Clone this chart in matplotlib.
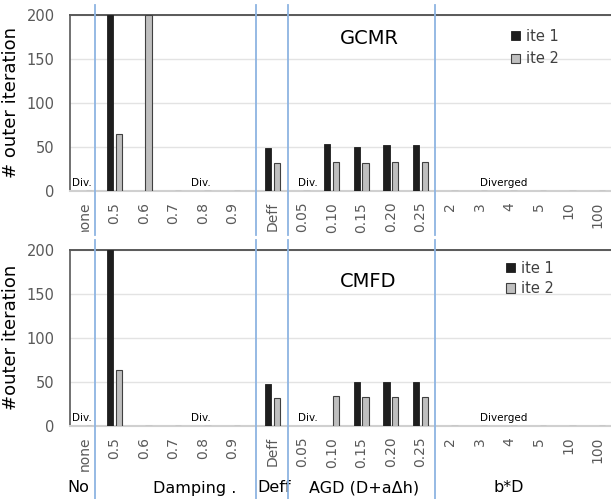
import matplotlib
matplotlib.use('Agg')
import matplotlib.pyplot as plt
import matplotlib.patches as mpatches
from matplotlib.transforms import blended_transform_factory
import numpy as np

plt.rcParams['font.family'] = ['DejaVu Sans']

# 数据
categories = ['none', '0.5', '0.6', '0.7', '0.8', '0.9', 'Deff',
              '0.05', '0.10', '0.15', '0.20', '0.25',
              '2', '3', '4', '5', '10', '100']
groups = ['No', 'Damping .', 'Deff', 'AGD (D+a\u0394h)', 'b*D']

gcmr_ite1 = [0, 200, 0, 0, 0, 0, 49, 0, 53, 50, 52, 52, 0, 0, 0, 0, 0, 0]
gcmr_ite2 = [0, 64, 200, 0, 0, 0, 32, 0, 33, 32, 33, 33, 0, 0, 0, 0, 0, 0]
cmfd_ite1 = [0, 200, 0, 0, 0, 0, 48, 0, 0, 50, 50, 50, 0, 0, 0, 0, 0, 0]
cmfd_ite2 = [0, 63, 0, 0, 0, 0, 32, 0, 34, 33, 33, 33, 0, 0, 0, 0, 0, 0]

W, H = 611, 499
fig = plt.figure(figsize=(W / 100, H / 100), dpi=100, facecolor='white')

# 类别位置：阻尼组之后留一点空隙
x = np.arange(len(categories), dtype=float)
x[6:] += 0.35
sep_x = [0.35, 5.8, 6.88, 11.85]
group_x = [-0.23, 3.72, 6.39, 9.45, 14.33]

BLUE = '#8DB4E2'
GRAY_TXT = '#595959'


def px_y(p):
    return 1 - p / H


def draw_panel(rect, ite1, ite2, title, title_pos, ylabel, sep_span, legend_anchor, legend_spacing):
    ax = fig.add_axes(rect)
    bw = 0.22
    ax.bar(x - 0.15, ite1, bw, color='#1E1E1E', edgecolor='#1E1E1E', linewidth=0.6, label='ite 1', zorder=3)
    ax.bar(x + 0.15, ite2, bw, color='#BFBFBF', edgecolor='#404040', linewidth=0.8, label='ite 2', zorder=3)
    ax.set_xlim(-0.5, 17.8)
    ax.set_ylim(0, 200)
    ax.set_yticks([0, 50, 100, 150, 200])
    ax.set_xticks(x)
    ax.set_xticklabels(categories, rotation=90, fontsize=10, color=GRAY_TXT)
    ax.tick_params(axis='y', length=0, pad=11, labelsize=10.5, labelcolor=GRAY_TXT)
    ax.tick_params(axis='x', length=0, pad=8)
    ax.grid(axis='y', color='#E3E3E3', linewidth=1, zorder=0)
    ax.spines['right'].set_visible(False)
    ax.spines['top'].set_color('#595959')
    ax.spines['top'].set_linewidth(1.4)
    ax.spines['left'].set_color('#595959')
    ax.spines['left'].set_linewidth(1.2)
    ax.spines['bottom'].set_color('#D0D0D0')
    ax.spines['bottom'].set_linewidth(1.5)
    ax.set_ylabel(ylabel, fontsize=13, color='black', labelpad=5)

    # 发散标记
    ax.text(-0.42, 9, 'Div.', fontsize=7.5, ha='left', va='center', zorder=4)
    ax.text(3.92, 9, 'Div.', fontsize=7.5, ha='center', va='center', zorder=4)
    ax.text(7.54, 9, 'Div.', fontsize=7.5, ha='center', va='center', zorder=4)
    ax.text(14.16, 9, 'Diverged', fontsize=7.5, ha='center', va='center', zorder=4)

    ax.text(title_pos[0], title_pos[1], title, fontsize=14, ha='center', va='center')

    # 分组分隔线
    tr = blended_transform_factory(ax.transData, fig.transFigure)
    for sx in sep_x:
        ax.plot([sx, sx], sep_span, color=BLUE, linewidth=1.3, transform=tr, clip_on=False, zorder=5)

    h1 = mpatches.Patch(facecolor='#1E1E1E', edgecolor='#1E1E1E', linewidth=0.6)
    h2 = mpatches.Patch(facecolor='#BFBFBF', edgecolor='#404040', linewidth=0.8)
    ax.legend([h1, h2], ['ite 1', 'ite 2'], loc='upper left', bbox_to_anchor=legend_anchor,
              bbox_transform=fig.transFigure, frameon=False, fontsize=10.5,
              handlelength=0.6, handleheight=0.6, handletextpad=0.4,
              labelspacing=legend_spacing, borderpad=0, borderaxespad=0,
              labelcolor='#404040')
    return ax


ax_top = draw_panel([70 / W, px_y(190.7), 541 / W, 175.7 / H],
                    gcmr_ite1, gcmr_ite2, 'GCMR', (9.63, 172.7), '# outer iteration',
                    [px_y(5), px_y(235)], (511 / W, px_y(29)), 0.5)
ax_bot = draw_panel([70 / W, px_y(425.7), 541 / W, 175.7 / H],
                    cmfd_ite1, cmfd_ite2, 'CMFD', (9.6, 164.7), '#outer iteration',
                    [px_y(240), px_y(499)], (506 / W, px_y(261)), 0.35)

# 分组标签
trb = blended_transform_factory(ax_bot.transData, fig.transFigure)
for gx, g in zip(group_x, groups):
    ax_bot.text(gx, px_y(488), g, fontsize=11.5, ha='center', va='center',
                transform=trb, clip_on=False)

# 上图 "none" 标签被下图遮住一截
fig.patches.append(mpatches.Rectangle((78 / W, px_y(240)), 15 / W, 8 / H,
                                      transform=fig.transFigure, facecolor='white',
                                      edgecolor='none', zorder=2))

plt.savefig('out.png', dpi=100, facecolor='white')
plt.close()
